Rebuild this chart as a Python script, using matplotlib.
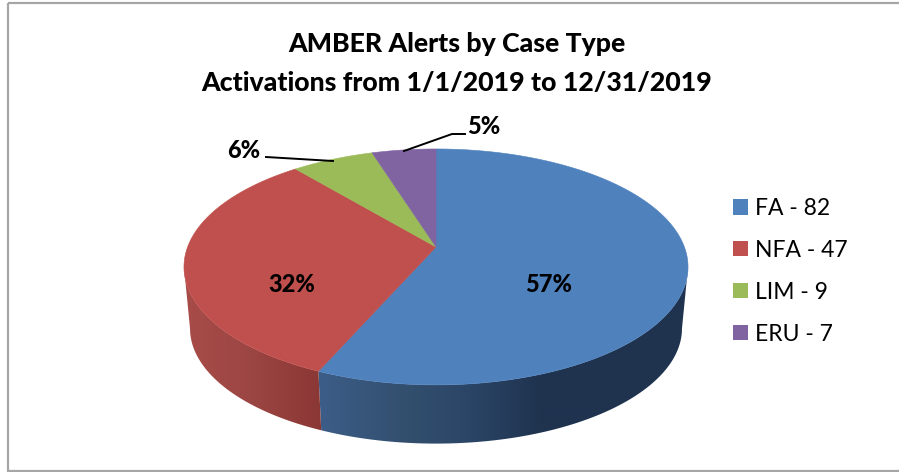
import numpy as np
import matplotlib
matplotlib.use("Agg")
import matplotlib.pyplot as plt
from matplotlib.patches import Patch, Rectangle, Polygon
from matplotlib.colors import to_rgb

categories = ["FA", "NFA", "LIM", "ERU"]
counts = [82, 47, 9, 7]
percent_labels = ["57%", "32%", "6%", "5%"]
top_colors = ["#4F81BD", "#C0504D", "#9BBB59", "#8064A2"]
title_lines = ["AMBER Alerts by Case Type", "Activations from 1/1/2019 to 12/31/2019"]

W, H = 899, 472
plt.rcParams["font.family"] = ["Lato", "DejaVu Sans"]
fig = plt.figure(figsize=(W / 100, H / 100), dpi=100)
ax = fig.add_axes([0, 0, 1, 1])

# perspective projection of the pie disc
CX, CY, A, B, K = 436, 247, 248.4, 114.6, 0.169
def project(theta, scale=1.0, dy=0.0):
    u, v = np.sin(theta), np.cos(theta)
    w = 1 + K * v
    return CX + scale * A * u / w, CY + dy - scale * B * v / w

SCALE_B, DROP = 0.976, 62.0

fractions = np.array(counts) / sum(counts)
edges = np.concatenate([[0], np.cumsum(fractions)]) * 2 * np.pi

side_stops = [
    ([320, 400, 470, 540, 700], ["#3C5D88", "#33506F", "#2B4566", "#1F334F", "#1F334F"]),
    ([180, 250, 320], ["#A84C49", "#9C4643", "#8B3735"]),
]

# side wall: horizontal gradient clipped to the visible wall of each slice
tangent = np.arccos(-K)
front_lo, front_hi = tangent, 2 * np.pi - tangent
gx = np.arange(170, 710)
for i in range(2):
    lo, hi = max(edges[i], front_lo), min(edges[i + 1], front_hi)
    ts = np.linspace(lo, hi, 300)
    x1, y1 = project(ts)
    x2, y2 = project(ts[::-1], scale=SCALE_B, dy=DROP)
    stops_x, stops_c = side_stops[i]
    rgb = np.array([to_rgb(c) for c in stops_c])
    grad = np.stack([np.interp(gx, stops_x, rgb[:, k]) for k in range(3)], axis=-1)[None, :, :]
    im = ax.imshow(grad, extent=(170, 710, 460, 250), aspect="auto", zorder=2, interpolation="bilinear")
    im.set_clip_path(Polygon(np.c_[np.r_[x1, x2], np.r_[y1, y2]], transform=ax.transData))

# top face
for i, c in enumerate(top_colors):
    ts = np.linspace(edges[i], edges[i + 1], 200)
    x, y = project(ts)
    ax.fill(np.r_[CX, x], np.r_[CY, y], color=c, lw=0.4, zorder=3)

ax.set_xlim(0, W)
ax.set_ylim(H, 0)
ax.axis("off")

# data labels
label_xy = [(549, 284), (292, 284), (244, 150), (484, 127)]
for s, (lx, ly) in zip(percent_labels, label_xy):
    ax.text(lx, ly, s, fontsize=17, fontweight=900, ha="center", va="center", color="black", zorder=5)
ax.plot([266, 333], [157, 161], color="black", lw=1.4, zorder=6)
ax.plot([404, 452, 465], [151, 134, 134], color="black", lw=1.4, zorder=6)

# title
ax.text(457, 44, title_lines[0], fontsize=19.2, fontweight=900, ha="center", va="center", color="black")
ax.text(457, 83, title_lines[1], fontsize=19.2, fontweight=900, ha="center", va="center", color="black")

# legend
handles = [Patch(facecolor=c, edgecolor="none", label=f"{n} - {v}") for c, n, v in zip(top_colors, categories, counts)]
leg = ax.legend(handles=handles, loc="upper left", bbox_to_anchor=(733 / W, 1 - 198 / H), frameon=False,
                fontsize=16.5, handlelength=0.65, handleheight=0.65, handletextpad=0.3,
                labelspacing=0.91, borderpad=0, borderaxespad=0, labelcolor="black")

# frame
ax.add_patch(Rectangle((8, 3), W - 8 + 5, 468, fill=False, edgecolor="#A6A6A6", lw=1.6, zorder=0))

fig.savefig("out.png", dpi=100)
